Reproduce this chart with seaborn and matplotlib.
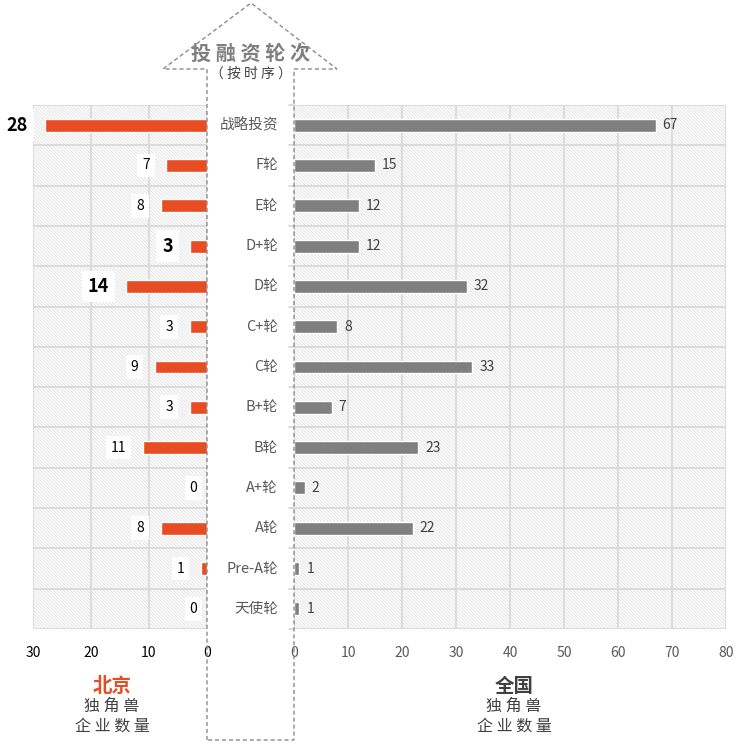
import matplotlib
matplotlib.use("Agg")
import matplotlib.pyplot as plt
import matplotlib.transforms as mtransforms
from matplotlib.patches import Rectangle, Polygon
import seaborn as sns
import pandas as pd

sns.set_theme(style="white")
plt.rcParams["font.family"] = ["Noto Sans CJK SC", "DejaVu Sans"]
plt.rcParams["hatch.linewidth"] = 0.6

rounds = ["战略投资", "F轮", "E轮", "D+轮", "D轮", "C+轮", "C轮",
          "B+轮", "B轮", "A+轮", "A轮", "Pre-A轮", "天使轮"]
beijing = [28, 7, 8, 3, 14, 3, 9, 3, 11, 0, 8, 1, 0]
national = [67, 15, 12, 12, 32, 8, 33, 7, 23, 2, 22, 1, 1]
highlight = ["战略投资", "D+轮", "D轮"]

ORANGE = "#e84c22"
GRAY = "#7f7f7f"
TXT = "#595959"
GRID = "#d9d9d9"
HATCH = "#e0e0e0"

df = pd.DataFrame({"轮次": rounds, "北京": beijing, "全国": national})

W, H = 751, 745
fig = plt.figure(figsize=(W / 100, H / 100), dpi=100)


def px(x0, y0, x1, y1):
    return [x0 / W, 1 - y1 / H, (x1 - x0) / W, (y1 - y0) / H]


ax_l = fig.add_axes(px(33, 105, 207, 629))
ax_r = fig.add_axes(px(294, 105, 726, 629))


def style_axis(ax, xmax):
    ax.set_facecolor("white")
    ax.add_patch(Rectangle((0, 0), 1, 1, transform=ax.transAxes, facecolor="white",
                           edgecolor=HATCH, hatch="\\" * 10, lw=0, zorder=0))
    ax.set_xlim(0, xmax)
    ax.set_ylim(len(rounds) - 0.5, -0.5)
    ax.set_xticks(range(0, xmax + 1, 10))
    for v in range(0, xmax + 1, 10):
        ax.axvline(v, color=GRID, lw=1.3, zorder=1)
    for i in range(len(rounds) + 1):
        ax.axhline(i - 0.5, color=GRID, lw=1.3, zorder=1)
    for s in ax.spines.values():
        s.set_visible(False)
    ax.set_yticks([])
    ax.set_xlabel("")
    ax.set_ylabel("")
    ax.tick_params(axis="x", length=0, pad=12, labelsize=10)


sns.barplot(data=df, x="北京", y="轮次", ax=ax_l, color=ORANGE, width=0.32,
            saturation=1, orient="h", zorder=3)
sns.barplot(data=df, x="全国", y="轮次", ax=ax_r, color=GRAY, width=0.32,
            saturation=1, orient="h", zorder=3)

style_axis(ax_l, 30)
style_axis(ax_r, 80)
ax_l.invert_xaxis()
ax_l.tick_params(axis="x", labelcolor="black")
ax_r.tick_params(axis="x", labelcolor=TXT)

# small tick marks on the left edge of the right panel
for i in range(len(rounds) + 1):
    ax_r.plot([-0.012, 0], [i - 0.5, i - 0.5], color=GRID, lw=1.3,
              transform=mtransforms.blended_transform_factory(ax_r.transAxes, ax_r.transData),
              clip_on=False, zorder=1)

# value labels
for i, (name, v) in enumerate(zip(rounds, beijing)):
    big = name in highlight
    ax_l.annotate(str(v), (v, i), xytext=(-12 if v else -7, 0), textcoords="offset points",
                  ha="right", va="center", fontsize=13 if big else 10,
                  fontweight="bold" if big else "normal", color="black", zorder=5,
                  bbox=dict(boxstyle="square,pad=0.35", fc="white", ec="none"))
for i, v in enumerate(national):
    ax_r.annotate(str(v), (v, i), xytext=(5, 0), textcoords="offset points",
                  ha="left", va="center", fontsize=10, color="#404040", zorder=5)

# category labels in the middle column
trans = mtransforms.blended_transform_factory(fig.transFigure, ax_r.transData)
for i, name in enumerate(rounds):
    fig.text(278 / W, i, name, transform=trans, ha="right", va="center",
             fontsize=10.5, color=TXT)

# dashed arrow
pts = [(207, 740), (207, 69), (163, 69), (251, 3), (337, 69), (294, 69), (294, 740)]
fig.patches.append(Polygon([(x / W, 1 - y / H) for x, y in pts], closed=True,
                           transform=fig.transFigure, fill=False, ec="#8c8c8c",
                           lw=1, ls=(0, (3, 2)), zorder=10))

fig.text(251 / W, 1 - 53 / H, "投 融 资 轮 次", ha="center", va="center",
         fontsize=14.5, fontweight="bold", color="#7f7f7f")
fig.text(251 / W, 1 - 74 / H, "（ 按 时 序 ）", ha="center", va="center",
         fontsize=10, color="#404040")

# bottom captions
fig.text(112 / W, 1 - 686 / H, "北京", ha="center", va="center", fontsize=14,
         fontweight="bold", color=ORANGE)
fig.text(514 / W, 1 - 686 / H, "全国", ha="center", va="center", fontsize=14,
         fontweight="bold", color="#404040")
for cx in (112, 514):
    fig.text(cx / W, 1 - 706 / H, "独 角 兽", ha="center", va="center",
             fontsize=11.5, color="#404040")
    fig.text(cx / W, 1 - 726 / H, "企 业 数 量", ha="center", va="center",
             fontsize=11.5, color="#404040")

fig.savefig("out.png", dpi=100, facecolor="white")
